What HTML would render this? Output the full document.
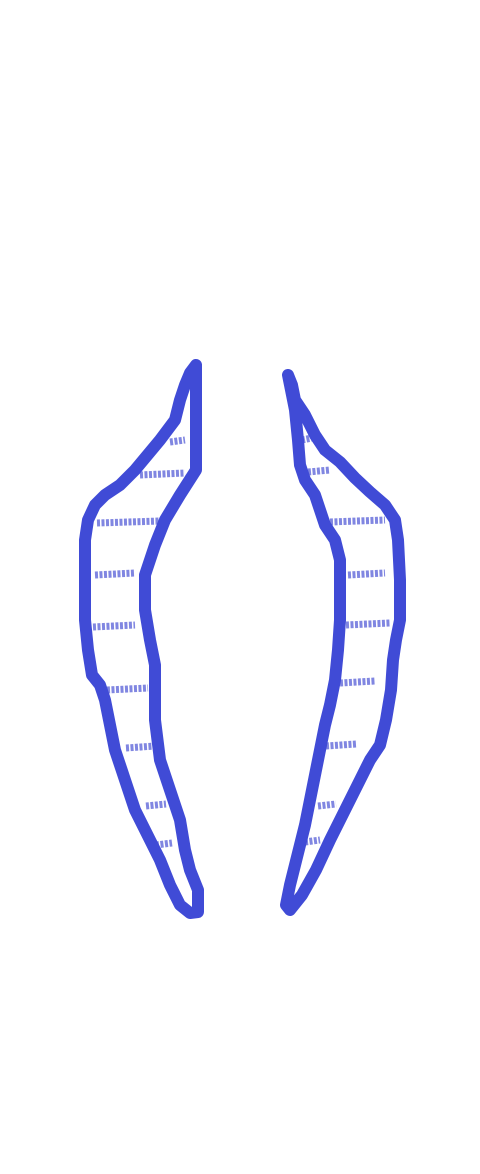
<!DOCTYPE html>
<html>
<head>
<meta charset="utf-8">
<style>
  html,body{margin:0;padding:0;background:#fff;}
  svg{display:block;}
</style>
</head>
<body>
<svg id="sketch" width="480" height="1174" viewBox="0 0 480 1174" xmlns="http://www.w3.org/2000/svg"></svg>
<script>
const leftOutline = [[196,365],[196,470],[180,495],[165,520],[155,545],[145,575],[145,610],[150,640],[155,665],[155,720],[160,760],[170,790],[180,820],[185,850],[190,870],[198,890],[198,912],[190,913],[180,905],[170,885],[160,860],[150,840],[135,810],[125,780],[115,750],[110,725],[105,700],[100,685],[92,675],[88,650],[85,620],[85,580],[85,540],[88,520],[95,505],[105,495],[120,485],[135,470],[145,458],[160,440],[175,420],[180,400],[185,385],[190,373],[196,365]];
const rightOutline = [[288,375],[292,385],[295,400],[305,415],[315,435],[325,450],[340,462],[355,478],[370,492],[385,505],[395,520],[398,540],[400,580],[400,620],[396,640],[393,660],[391,690],[386,720],[380,745],[370,760],[360,780],[350,800],[340,820],[330,840],[316,870],[302,895],[290,910],[286,905],[290,885],[295,865],[300,845],[305,825],[310,800],[315,775],[320,750],[325,725],[330,705],[335,680],[338,650],[340,620],[340,585],[340,560],[335,540],[325,525],[320,510],[315,495],[305,480],[300,465],[298,440],[295,410],[290,385],[288,375]];
const leftHatches = [[442,170,185],[475,140,185],[523,97,160],[575,95,135],[627,93,135],[690,107,148],[748,126,155],[806,146,166],[845,156,172]];
const rightHatches = [[440,302,312],[472,308,330],[522,330,385],[575,348,385],[625,346,390],[683,340,375],[746,326,356],[806,318,336],[842,305,320]];

const NS = 'http://www.w3.org/2000/svg';
const svg = document.getElementById('sketch');

function drawOutline(pts, name){
  const p = document.createElementNS(NS,'path');
  p.setAttribute('d', 'M' + pts.map(q => q[0] + ' ' + q[1]).join(' L'));
  p.setAttribute('fill','none');
  p.setAttribute('stroke','#404bd6');
  p.setAttribute('stroke-width','12');
  p.setAttribute('stroke-linejoin','round');
  p.setAttribute('stroke-linecap','round');
  
  
  svg.appendChild(p);
}
function drawHatches(list, name){
  const g = document.createElementNS(NS,'g');
  
  
  list.forEach(h => {
    const l = document.createElementNS(NS,'line');
    l.setAttribute('x1', h[1]); l.setAttribute('x2', h[2]);
    l.setAttribute('y1', h[0]); l.setAttribute('y2', h[0] - 2);
    l.setAttribute('stroke','#4a53d4');
    l.setAttribute('stroke-opacity','0.7');
    l.setAttribute('stroke-width','7');
    l.setAttribute('stroke-dasharray','3 1.5');
    
    
    g.appendChild(l);
  });
  svg.appendChild(g);
}
drawHatches(leftHatches, 'left-hatching');
drawHatches(rightHatches, 'right-hatching');
drawOutline(leftOutline, 'left-shape-outline');
drawOutline(rightOutline, 'right-shape-outline');
</script>
</body>
</html>
